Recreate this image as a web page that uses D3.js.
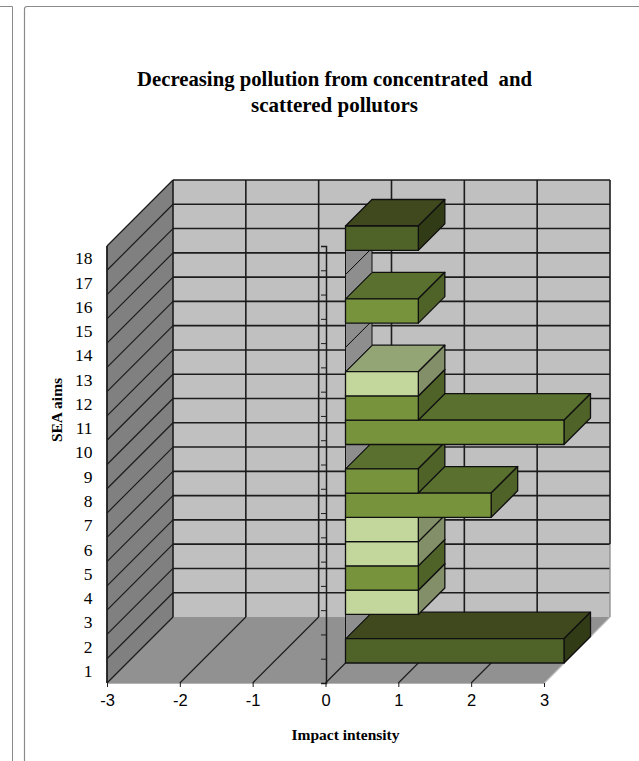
<!DOCTYPE html>
<html>
<head>
<meta charset="utf-8">
<style>
html,body{margin:0;padding:0;background:#fff}
svg{display:block}
text{fill:#000}
</style>
<script src="https://cdn.jsdelivr.net/npm/d3@7"></script>
</head>
<body>
<svg id="chart" width="639" height="761"></svg>
<script>
// Chart content
const titleLines = ["Decreasing pollution from concentrated  and", "scattered pollutors"];
const titleWidths = [395, 167];
const xTitle = "Impact intensity";
const yTitle = "SEA aims";
const aims = [1,2,3,4,5,6,7,8,9,10,11,12,13,14,15,16,17,18];
const impact = [3,0,1,1,1,1,2,1,0,3,1,1,0,0,1,0,0,1];
const tone = ["dark","none","light","mid","light","light","mid","mid","none","mid","mid","light","none","none","mid","none","none","dark"];
const xTicks = [-3,-2,-1,0,1,2,3];

// Face colours for each bar tone
const faces = {
  dark:  {front:"#4f6228", top:"#3f491d", side:"#313c16"},
  mid:   {front:"#77933c", top:"#5a702f", side:"#4f6228"},
  light: {front:"#c3d69b", top:"#93a574", side:"#838f68"},
  none:  {side:"#8e8e8e"}
};

const svg = d3.select("#chart");
const ink = "#1c1c1c";

// Oblique projection: the box is sheared up and to the right by `depth`
const depth = 66, barNear = 20, barFar = 46.5;
const x = d3.scaleLinear().domain([-3,3]).range([107,544]);
const y = d3.scaleBand().domain(aims).range([683,246]).padding(0);
const bandH = y.bandwidth();
const levels = d3.range(0,19);
const levelY = j => 246 + j*bandH;
const poly = pts => pts.map(p => p.join(",")).join(" ");

// Surrounding panel rules
const rule = "#8a8a8a";
svg.append("path").attr("d","M0 6.5H12.5V761").attr("fill","none").attr("stroke",rule).attr("stroke-width",1);
svg.append("path").attr("d","M24.5 761V9Q24.5 6.5 27 6.5H639").attr("fill","none").attr("stroke",rule).attr("stroke-width",1.2);

// Box walls
const [x0,x1] = x.domain().map(x);
svg.append("polygon").attr("points",poly([[x0+depth,levelY(0)-depth],[x1+depth,levelY(0)-depth],[x1+depth,levelY(18)-depth],[x0+depth,levelY(18)-depth]])).attr("fill","#c0c0c0");
svg.append("polygon").attr("points",poly([[x0,levelY(0)],[x0+depth,levelY(0)-depth],[x0+depth,levelY(18)-depth],[x0,levelY(18)]])).attr("fill","#808080");
svg.append("polygon").attr("points",poly([[x0,levelY(18)],[x0+depth,levelY(18)-depth],[x1+depth,levelY(18)-depth],[x1,levelY(18)]])).attr("fill","#919191");

// Floor front edge and right edge
svg.append("path").attr("d",`M${x0} ${levelY(18)+.5}H${x1}L${x1+depth} ${levelY(18)-depth}`).attr("fill","none").attr("stroke","#b4b4b4").attr("stroke-width",1.2);

// Grid on the back wall
svg.append("g").selectAll("line").data(levels.slice(0,18)).join("line")
  .attr("x1",x0+depth).attr("x2",x1+depth)
  .attr("y1",j=>levelY(j)-depth).attr("y2",j=>levelY(j)-depth)
  .attr("stroke",ink).attr("stroke-width",1.6);
svg.append("g").selectAll("line").data(xTicks).join("line")
  .attr("x1",d=>x(d)+depth).attr("x2",d=>x(d)+depth)
  .attr("y1",levelY(0)-depth).attr("y2",d=>d===3?levelY(15)-depth:levelY(18)-depth)
  .attr("stroke",ink).attr("stroke-width",1.6);
svg.append("line").attr("x1",x1+depth).attr("x2",x1+depth)
  .attr("y1",levelY(15)-depth).attr("y2",levelY(18)-depth)
  .attr("stroke","#8c8c8c").attr("stroke-width",1.3);

// Grid on the side wall
svg.append("g").selectAll("line").data(levels.slice(0,18)).join("line")
  .attr("x1",x0).attr("x2",x0+depth)
  .attr("y1",j=>levelY(j)).attr("y2",j=>levelY(j)-depth)
  .attr("stroke",ink).attr("stroke-width",1.2);
svg.append("line").attr("x1",x0).attr("x2",x0).attr("y1",levelY(0)).attr("y2",levelY(18))
  .attr("stroke",ink).attr("stroke-width",1.8);

// Grid on the floor
svg.append("g").selectAll("line").data(xTicks.slice(0,6)).join("line")
  .attr("x1",d=>x(d)).attr("x2",d=>x(d)+depth)
  .attr("y1",levelY(18)).attr("y2",levelY(18)-depth)
  .attr("stroke",ink).attr("stroke-width",1.2);

// Category axis standing at zero
const zeroAxis = svg.append("g").attr("transform",`translate(${x(0)+.5},0)`)
  .call(d3.axisLeft(d3.scalePoint().domain(levels).range([246,683])).tickSize(5).tickFormat(""));
zeroAxis.selectAll("path").attr("stroke",ink).attr("stroke-width",1.5);
zeroAxis.selectAll("line").attr("stroke",ink).attr("stroke-width",1);

// Bars, drawn from the lowest aim up so that upper bars sit over lower tops
const edge = "#101010";
const bars = svg.append("g").selectAll("g").data(aims.map((a,i)=>({aim:a,value:impact[i],tone:tone[i]}))).join("g")
  .attr("stroke",edge).attr("stroke-width",1.3).attr("stroke-linejoin","round");
bars.each(function(d){
  const g = d3.select(this), f = faces[d.tone];
  const lo = x(0) + barNear, hi = lo + (x(d.value)-x(0));
  const yb = y(d.aim) + bandH - barNear, yt = y(d.aim) - barNear;
  const run = barFar - barNear;
  if (d.value === 0) {
    g.append("polygon").attr("points",poly([[lo,yt],[lo,yb],[lo+run,yb-run],[lo+run,yt-run]])).attr("fill",f.side).attr("stroke-width",1);
    return;
  }
  g.append("polygon").attr("points",poly([[lo,yt],[lo+run,yt-run],[hi+run,yt-run],[hi,yt]])).attr("fill",f.top);
  g.append("polygon").attr("points",poly([[hi,yt],[hi+run,yt-run],[hi+run,yb-run],[hi,yb]])).attr("fill",f.side);
  g.append("rect").attr("x",lo).attr("y",yt).attr("width",hi-lo).attr("height",bandH).attr("fill",f.front);
});

// Value axis labels and ticks
const xAxis = svg.append("g").attr("transform",`translate(0,${levelY(18)})`)
  .call(d3.axisBottom(x).tickValues(xTicks).tickSize(4).tickPadding(7).tickFormat(d3.format("d")));
xAxis.select(".domain").remove();
xAxis.selectAll("line").attr("stroke",ink);
xAxis.selectAll("text").attr("font-family","'Liberation Sans',Arial,sans-serif").attr("font-size",16.5).attr("fill","#000").text(d=>String(d));

// Aim labels
const yAxis = svg.append("g").attr("transform","translate(92.5,0.5)")
  .call(d3.axisLeft(y).tickSize(0).tickPadding(0));
yAxis.select(".domain").remove();
yAxis.selectAll("text").attr("font-family","'Liberation Serif','Times New Roman',serif").attr("font-size",17.5).attr("fill","#000");

// Titles
const serif = "'Liberation Serif','Times New Roman',serif";
svg.append("g").selectAll("text").data(titleLines).join("text")
  .attr("x",334.5).attr("y",(d,i)=>86+i*26)
  .attr("text-anchor","middle").attr("font-family",serif).attr("font-weight","bold").attr("font-size",22)
  .attr("textLength",(d,i)=>titleWidths[i]).attr("lengthAdjust","spacingAndGlyphs")
  .attr("xml:space","preserve").style("white-space","pre").text(d=>d);
svg.append("text").attr("x",345.5).attr("y",740).attr("text-anchor","middle")
  .attr("font-family",serif).attr("font-weight","bold").attr("font-size",15.5).text(xTitle);
svg.append("text").attr("transform","translate(62,410) rotate(-90)").attr("text-anchor","middle")
  .attr("font-family",serif).attr("font-weight","bold").attr("font-size",15.5).text(yTitle);
</script>
</body>
</html>
